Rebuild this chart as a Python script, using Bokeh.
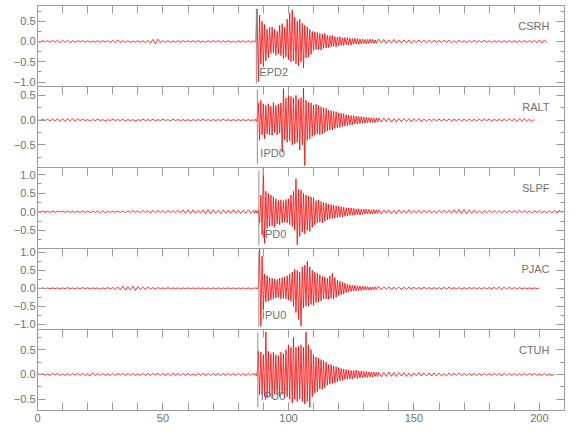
import numpy as np
from bokeh.plotting import figure
from bokeh.layouts import column
from bokeh.models import FixedTicker, LinearAxis, Label, Range1d, CustomLabelingPolicy
from bokeh.embed import file_html
from bokeh.resources import INLINE

# ---------------- data ----------------
stations = ["CSRH", "RALT", "SLPF", "PJAC", "CTUH"]
pick_labels = ["EPD2", "IPD0", "IPD0", "IPU0", "IPU0"]
pick_times = [87.2, 87.6, 88.2, 88.2, 87.8]
y_lo = [-1.11, -0.96, -0.99, -1.15, -0.73]
y_hi = [0.887, 0.68, 1.19, 1.11, 0.91]

x_start, x_end = 0, 210
x_tick_values = [0, 50, 100, 150, 200]
x_tick_labels = ["0", "50", "100", "150", "200"]
x_minor_values = list(range(0, 211, 10))
y_tick_values = [-1.0, -0.5, 0.0, 0.5, 1.0]
y_tick_labels = ["\u22121.0", "\u22120.5", "0.0", "0.5", "1.0"]
y_minor_values = [-1.25, -1.0, -0.75, -0.5, -0.25, 0.0, 0.25, 0.5, 0.75, 1.0, 1.25]

# sampling of the read-off peaks: pre-event (1 s), event (0.5 s), coda (1 s)
pre_start, pre_step = 0.0, 1.0
event_start, event_step = 86.0, 0.5
coda_start, coda_step = 136.0, 1.0

csrh_pre = [0.01,-0.02,0.02,-0.01,0.02,-0.02,0.03,-0.02,0.03,-0.03,
            0.03,-0.02,0.03,-0.03,0.02,-0.02,0.02,-0.01,0.02,-0.02,
            0.02,-0.02,0.01,-0.02,0.02,-0.02,0.02,-0.01,0.02,-0.03,
            0.03,-0.03,0.04,-0.03,0.02,-0.02,0.02,-0.02,0.01,-0.02,
            0.02,-0.02,0.02,-0.03,0.03,-0.04,0.05,-0.06,0.06,-0.03,
            0.02,-0.02,0.02,-0.02,0.01,-0.02,0.02,-0.02,0.02,-0.01,
            0.02,-0.02,0.02,-0.02,0.02,-0.02,0.01,-0.02,0.02,-0.02,
            0.02,-0.01,0.02,-0.02,0.02,-0.02,0.02,-0.02,0.01,-0.02,
            0.02,-0.02,0.02,-0.02,0.02,-0.02]
csrh_event = [0.02,-0.02,0.03,0.80,-0.99,0.65,-0.55,0.50,-0.62,0.42,
              -0.48,0.30,-0.40,0.35,-0.30,0.36,-0.28,0.30,-0.34,0.25,
              -0.30,0.40,-0.35,0.44,-0.42,0.35,-0.38,0.55,-0.45,0.70,
              -0.50,0.78,-0.48,0.60,-0.55,0.50,-0.60,0.55,-0.50,0.45,
              -0.65,0.40,-0.40,0.36,-0.38,0.30,-0.32,0.25,-0.22,0.24,
              -0.20,0.22,-0.20,0.20,-0.21,0.18,-0.17,0.20,-0.16,0.15,
              -0.15,0.14,-0.13,0.15,-0.12,0.12,-0.13,0.11,-0.10,0.12,
              -0.10,0.09,-0.10,0.10,-0.08,0.09,-0.08,0.08,-0.09,0.07,
              -0.07,0.08,-0.06,0.07,-0.07,0.06,-0.06,0.06,-0.05,0.05,
              -0.06,0.05,-0.05,0.06,-0.04,0.05,-0.05,0.04,-0.05,0.04]
csrh_coda = [0.05,-0.04,0.05,-0.05,0.04,-0.04,0.05,-0.04,0.04,-0.04,
             0.04,-0.03,0.04,-0.04,0.03,-0.03,0.04,-0.03,0.03,-0.03,
             0.03,-0.03,0.03,-0.02,0.03,-0.03,0.03,-0.02,0.03,-0.03,
             0.02,-0.03,0.03,-0.02,0.02,-0.03,0.02,-0.02,0.03,-0.02,
             0.02,-0.02,0.03,-0.02,0.02,-0.02,0.02,-0.02,0.02,-0.02,
             0.02,-0.02,0.02,-0.02,0.02,-0.02,0.02,-0.02,0.02,-0.02,
             0.02,-0.02,0.03,-0.03,0.04,-0.04,0.04,-0.03]

ralt_pre = [0.01,-0.01,0.02,-0.01,0.02,-0.02,0.02,-0.02,0.03,-0.03,
            0.03,-0.03,0.03,-0.02,0.03,-0.02,0.02,-0.01,0.02,-0.01,
            0.01,-0.02,0.01,-0.01,0.02,-0.01,0.01,-0.02,0.01,-0.01,
            0.02,-0.01,0.01,-0.01,0.02,-0.02,0.01,-0.01,0.01,-0.02,
            0.01,-0.01,0.02,-0.01,0.01,-0.01,0.02,-0.02,0.01,-0.01,
            0.02,-0.01,0.01,-0.02,0.02,-0.01,0.01,-0.01,0.01,-0.01,
            0.01,-0.02,0.01,-0.01,0.01,-0.01,0.02,-0.01,0.01,-0.01,
            0.01,-0.01,0.01,-0.01,0.02,-0.01,0.01,-0.01,0.01,-0.01,
            0.01,-0.01,0.01,-0.01,0.01,-0.01]
ralt_event = [0.01,-0.02,0.02,-0.03,0.35,-0.41,0.40,-0.30,0.33,-0.38,
              0.30,-0.28,0.33,-0.30,0.28,-0.31,0.36,-0.25,0.30,-0.30,
              0.32,-0.27,0.35,-0.65,0.64,-0.40,0.45,-0.45,0.50,-0.42,
              0.48,-0.50,0.45,-0.48,0.50,-0.45,0.42,-0.61,0.45,-0.50,
              0.65,-0.92,0.40,-0.41,0.36,-0.38,0.35,-0.33,0.30,-0.31,
              0.32,-0.28,0.30,-0.30,0.27,-0.28,0.25,-0.25,0.24,-0.22,
              0.20,-0.20,0.19,-0.20,0.18,-0.17,0.17,-0.16,0.15,-0.15,
              0.14,-0.13,0.13,-0.12,0.11,-0.11,0.10,-0.10,0.09,-0.09,
              0.09,-0.08,0.08,-0.08,0.07,-0.07,0.07,-0.06,0.06,-0.06,
              0.06,-0.05,0.05,-0.05,0.05,-0.05,0.04,-0.05,0.04,-0.04]
ralt_coda = [0.04,-0.04,0.04,-0.03,0.04,-0.04,0.03,-0.04,0.03,-0.03,
             0.03,-0.03,0.03,-0.03,0.03,-0.02,0.03,-0.03,0.02,-0.03,
             0.02,-0.02,0.03,-0.02,0.02,-0.02,0.02,-0.02,0.02,-0.02,
             0.02,-0.02,0.02,-0.02,0.02,-0.02,0.02,-0.02,0.02,-0.02,
             0.02,-0.02,0.02,-0.01,0.02,-0.02,0.02,-0.02,0.02,-0.02,
             0.02,-0.02,0.03,-0.02,0.03,-0.03,0.03,-0.02,0.03,-0.03,
             0.02,-0.03,0.02]

slpf_pre = [0.02,-0.02,0.02,-0.02,0.01,-0.02,0.02,-0.02,0.02,-0.01,
            0.02,-0.02,0.02,-0.02,0.02,-0.02,0.01,-0.02,0.02,-0.02,
            0.02,-0.02,0.02,-0.02,0.02,-0.03,0.03,-0.03,0.02,-0.02,
            0.02,-0.02,0.02,-0.02,0.02,-0.02,0.02,-0.02,0.03,-0.02,
            0.02,-0.03,0.03,-0.02,0.03,-0.04,0.04,-0.03,0.03,-0.02,
            0.03,-0.03,0.03,-0.02,0.03,-0.03,0.04,-0.04,0.05,-0.04,
            0.05,-0.05,0.05,-0.04,0.04,-0.04,0.05,-0.05,0.06,-0.06,
            0.05,-0.04,0.04,-0.05,0.05,-0.04,0.04,-0.04,0.05,-0.04,
            0.04,-0.05,0.04,-0.04,0.05,-0.04]
slpf_event = [0.04,-0.05,0.04,-0.04,0.05,-0.30,0.45,-0.62,1.18,-0.85,
              0.55,-0.45,0.50,-0.40,0.45,-0.38,0.40,-0.42,0.35,-0.33,
              0.30,-0.35,0.32,-0.30,0.30,-0.28,0.33,-0.30,0.35,-0.35,
              0.45,-0.40,0.55,-0.50,0.89,-0.89,0.60,-0.67,0.58,-0.55,
              0.50,-0.60,0.45,-0.50,0.42,-0.53,0.40,-0.42,0.38,-0.35,
              0.30,-0.30,0.32,-0.28,0.27,-0.30,0.25,-0.25,0.24,-0.22,
              0.20,-0.20,0.19,-0.18,0.18,-0.17,0.16,-0.16,0.15,-0.14,
              0.13,-0.14,0.12,-0.12,0.11,-0.11,0.10,-0.10,0.10,-0.09,
              0.09,-0.09,0.08,-0.08,0.08,-0.09,0.07,-0.07,0.07,-0.06,
              0.07,-0.06,0.06,-0.06,0.05,-0.06,0.06,-0.05,0.05,-0.05]
slpf_coda = [0.05,-0.05,0.05,-0.04,0.05,-0.05,0.04,-0.05,0.05,-0.04,
             0.04,-0.04,0.05,-0.04,0.04,-0.04,0.04,-0.04,0.04,-0.03,
             0.04,-0.04,0.03,-0.04,0.04,-0.03,0.04,-0.04,0.04,-0.04,
             0.05,-0.04,0.06,-0.05,0.06,-0.06,0.05,-0.04,0.04,-0.04,
             0.03,-0.04,0.03,-0.03,0.04,-0.03,0.03,-0.03,0.03,-0.03,
             0.03,-0.03,0.03,-0.02,0.03,-0.03,0.03,-0.02,0.03,-0.03,
             0.02,-0.03,0.03,-0.02,0.03,-0.03,0.02,-0.03,0.03,-0.03,
             0.03,-0.04,0.04,-0.03]

pjac_pre = [0.01,-0.01,0.01,-0.01,0.01,-0.01,0.01,-0.01,0.01,-0.01,
            0.01,-0.01,0.02,-0.01,0.01,-0.01,0.01,-0.01,0.02,-0.01,
            0.01,-0.01,0.01,-0.01,0.01,-0.02,0.01,-0.01,0.02,-0.02,
            0.02,-0.03,0.04,-0.05,0.06,-0.05,0.04,-0.05,0.06,-0.06,
            0.05,-0.04,0.03,-0.03,0.04,-0.02,0.02,-0.02,0.02,-0.01,
            0.01,-0.01,0.02,-0.01,0.01,-0.01,0.01,-0.01,0.01,-0.01,
            0.01,-0.01,0.01,-0.01,0.01,-0.01,0.01,-0.01,0.01,-0.01,
            0.01,-0.01,0.01,-0.01,0.01,-0.01,0.01,-0.01,0.01,-0.01,
            0.01,-0.01,0.01,-0.01,0.01,-0.02]
pjac_event = [0.01,-0.02,0.02,-0.02,0.05,1.10,-1.06,0.90,-0.60,0.40,
              -0.38,0.35,-0.35,0.30,-0.32,0.28,-0.30,0.26,-0.27,0.25,
              -0.25,0.28,-0.30,0.30,-0.28,0.32,-0.30,0.35,-0.33,0.40,
              -0.36,0.45,-0.50,0.53,-0.68,0.50,-0.87,0.45,-1.06,0.60,
              -0.55,0.65,-0.50,0.75,-0.50,0.60,-0.45,0.50,-0.48,0.45,
              -0.40,0.42,-0.38,0.38,-0.35,0.33,-0.30,0.32,-0.30,0.28,
              -0.30,0.35,-0.28,0.42,-0.30,0.30,-0.25,0.22,-0.20,0.20,
              -0.18,0.17,-0.16,0.14,-0.12,0.11,-0.10,0.10,-0.09,0.08,
              -0.08,0.08,-0.07,0.07,-0.06,0.06,-0.06,0.06,-0.05,0.05,
              -0.05,0.05,-0.05,0.04,-0.05,0.04,-0.04,0.04,-0.04,0.04]
pjac_coda = [0.04,-0.04,0.04,-0.03,0.04,-0.03,0.03,-0.03,0.03,-0.03,
             0.03,-0.03,0.03,-0.02,0.03,-0.02,0.02,-0.02,0.03,-0.02,
             0.02,-0.02,0.02,-0.02,0.02,-0.02,0.03,-0.03,0.03,-0.02,
             0.02,-0.02,0.02,-0.02,0.02,-0.02,0.02,-0.01,0.02,-0.02,
             0.02,-0.02,0.02,-0.02,0.02,-0.02,0.03,-0.03,0.04,-0.04,
             0.04,-0.03,0.03,-0.02,0.02,-0.02,0.02,-0.01,0.01,-0.01,
             0.01,-0.01,0.01,-0.01,0.01]

ctuh_pre = [0.02,-0.01,0.02,-0.02,0.01,-0.02,0.02,-0.01,0.02,-0.02,
            0.01,-0.02,0.02,-0.02,0.02,-0.01,0.02,-0.02,0.02,-0.02,
            0.02,-0.03,0.03,-0.02,0.02,-0.02,0.02,-0.02,0.01,-0.02,
            0.02,-0.02,0.02,-0.01,0.02,-0.02,0.02,-0.02,0.02,-0.02,
            0.01,-0.02,0.02,-0.02,0.02,-0.02,0.02,-0.01,0.02,-0.02,
            0.02,-0.02,0.02,-0.03,0.03,-0.02,0.02,-0.02,0.02,-0.02,
            0.02,-0.02,0.01,-0.02,0.02,-0.02,0.02,-0.02,0.02,-0.02,
            0.02,-0.02,0.02,-0.02,0.02,-0.02,0.02,-0.02,0.02,-0.02,
            0.02,-0.02,0.02,-0.02,0.02,-0.02]
ctuh_event = [0.02,-0.02,0.02,-0.03,0.47,-0.41,0.45,-0.40,0.40,-0.45,
              0.86,-0.48,0.47,-0.45,0.42,-0.48,0.45,-0.40,0.40,-0.42,
              0.38,-0.45,0.45,-0.40,0.42,-0.48,0.50,-0.45,0.60,-0.50,
              0.55,-0.58,0.75,-0.50,0.55,-0.55,0.57,-0.50,0.60,-0.55,
              0.55,-0.60,0.86,-0.55,0.60,-0.67,0.50,-0.45,0.40,-0.38,
              0.35,-0.35,0.33,-0.30,0.30,-0.30,0.28,-0.27,0.25,-0.22,
              0.20,-0.20,0.20,-0.18,0.17,-0.17,0.16,-0.15,0.14,-0.13,
              0.12,-0.12,0.11,-0.10,0.10,-0.10,0.09,-0.09,0.08,-0.09,
              0.08,-0.07,0.09,-0.08,0.07,-0.07,0.07,-0.06,0.06,-0.06,
              0.06,-0.06,0.05,-0.05,0.05,-0.05,0.05,-0.04,0.04,-0.04]
ctuh_coda = [0.04,-0.05,0.04,-0.04,0.05,-0.04,0.04,-0.04,0.04,-0.03,
             0.04,-0.04,0.03,-0.04,0.03,-0.03,0.04,-0.03,0.03,-0.03,
             0.03,-0.03,0.03,-0.03,0.03,-0.03,0.02,-0.03,0.03,-0.02,
             0.02,-0.02,0.03,-0.02,0.02,-0.02,0.02,-0.02,0.02,-0.02,
             0.02,-0.02,0.02,-0.02,0.02,-0.02,0.02,-0.02,0.02,-0.03,
             0.03,-0.02,0.02,-0.02,0.02,-0.02,0.02,-0.02,0.02,-0.02,
             0.02,-0.01,0.02,-0.02,0.01,-0.02,0.02,-0.02,0.01,-0.02,
             0.01]

traces = [
    (csrh_pre, csrh_event, csrh_coda),
    (ralt_pre, ralt_event, ralt_coda),
    (slpf_pre, slpf_event, slpf_coda),
    (pjac_pre, pjac_event, pjac_coda),
    (ctuh_pre, ctuh_event, ctuh_coda),
]

# ---------------- style ----------------
FONT = "Liberation Sans"
FRAME = "#9a9a9a"
TEXT = "#707070"
PICK = "#909090"
FRAME_W, FRAME_H = 527, 81
PAD = 7          # spare canvas above/below each frame, overlapped by neighbours

x_range = Range1d(x_start, x_end)
px_per_x = FRAME_W / (x_end - x_start)


def series(pre, ev, coda):
    t = np.concatenate([
        pre_start + pre_step * np.arange(len(pre)),
        event_start + event_step * np.arange(len(ev)),
        coda_start + coda_step * np.arange(len(coda)),
    ])
    v = np.array(list(pre) + list(ev) + list(coda))
    return t, v


def tick_only(axis):
    # ticks without any labels and without reserving room for them
    axis.major_label_policy = CustomLabelingPolicy(
        code="for (const i of indices) { indices.unset(i) } return indices")
    axis.major_label_text_font_size = "0px"
    axis.major_label_standoff = 0


figs = []
n = len(stations)
for i in range(n):
    first, last = i == 0, i == n - 1
    lo, hi = y_lo[i], y_hi[i]
    ppu = FRAME_H / (hi - lo)
    p = figure(frame_width=FRAME_W, frame_height=FRAME_H,
               x_range=x_range, y_range=Range1d(lo, hi),
               x_axis_type=None, y_axis_type=None,
               output_backend="svg", toolbar_location=None,
               min_border_left=37, min_border_right=8,
               min_border_top=PAD, min_border_bottom=(24 if last else PAD),
               margin=(-(PAD - 5) if first else -2 * PAD, 0, 0, 0))
    p.outline_line_color = None
    p.background_fill_color = None
    p.border_fill_color = None

    common = dict(axis_line_color=FRAME, major_tick_line_color=FRAME,
                  minor_tick_line_color=FRAME, major_tick_out=0, minor_tick_out=0)

    yover = dict(zip(y_tick_values, y_tick_labels))
    left = LinearAxis(ticker=FixedTicker(ticks=y_tick_values, minor_ticks=y_minor_values),
                      major_label_overrides=yover, major_tick_in=8, minor_tick_in=4,
                      major_label_text_font=FONT, major_label_text_font_size="11px",
                      major_label_text_color=TEXT, major_label_standoff=2, **common)
    p.add_layout(left, "left")
    right = LinearAxis(ticker=FixedTicker(ticks=y_tick_values, minor_ticks=y_minor_values),
                       major_tick_in=8, minor_tick_in=4, **common)
    tick_only(right)
    p.add_layout(right, "right")
    top = LinearAxis(ticker=FixedTicker(ticks=x_minor_values, minor_ticks=[]),
                     major_tick_in=8, minor_tick_in=0, **common)
    tick_only(top)
    p.add_layout(top, "above")
    if last:
        bottom = LinearAxis(ticker=FixedTicker(ticks=x_tick_values, minor_ticks=x_minor_values),
                            major_label_overrides=dict(zip(x_tick_values, x_tick_labels)),
                            major_tick_in=8, minor_tick_in=8,
                            major_label_text_font=FONT, major_label_text_font_size="11px",
                            major_label_text_color=TEXT, major_label_standoff=3, **common)
        p.add_layout(bottom, "below")

    t, v = series(*traces[i])
    p.line(t, v, line_color="#ff0000", line_width=0.8)

    pt = pick_times[i]
    p.segment(x0=[pt], y0=[lo + 3 / ppu], x1=[pt], y1=[hi - 3 / ppu],
              line_color=PICK, line_width=1)

    p.add_layout(Label(x=x_end - 15 / px_per_x, y=hi - 20 / ppu, text=stations[i],
                       text_align="right", text_baseline="middle",
                       text_font=FONT, text_font_size="11px", text_color=TEXT))
    p.add_layout(Label(x=pt + 3 / px_per_x, y=lo + 14.5 / ppu, text=pick_labels[i],
                       text_align="left", text_baseline="middle",
                       text_font=FONT, text_font_size="11px", text_color=TEXT))
    figs.append(p)

layout = column(*figs, spacing=0)
open("out.html", "w").write(file_html(layout, INLINE))
